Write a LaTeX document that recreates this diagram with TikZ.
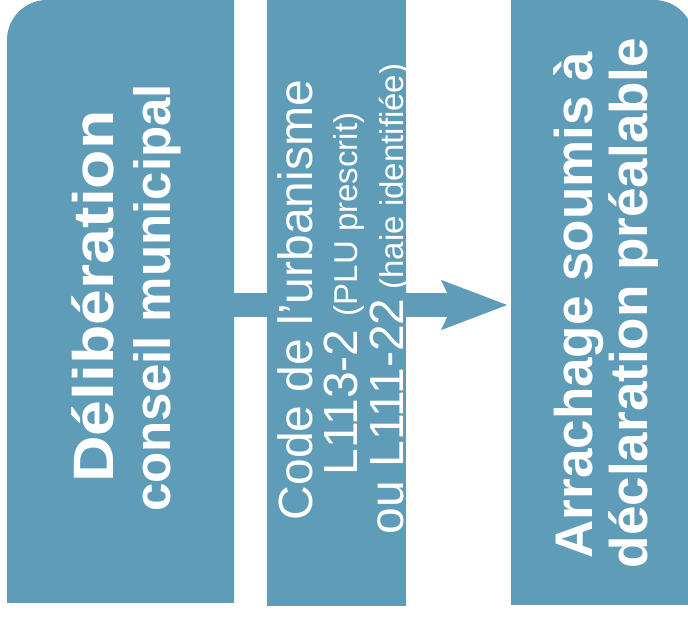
\documentclass[tikz,border=0pt]{standalone}
\usepackage{fontspec}
\setmainfont{Liberation Sans}
\usepackage{graphicx}
\usetikzlibrary{arrows.meta,positioning}
\definecolor{bleuhaie}{RGB}{95,156,183}

\begin{document}
\begin{tikzpicture}[x=1pt,y=1pt,
	bloc/.style={rectangle,inner sep=0pt,outer sep=0pt},
	texte/.style={rotate=90,anchor=base,inner sep=0pt,text=white},
	gras/.style={texte,font=\fontsize{#1}{#1}\selectfont\bfseries},
	fin/.style={texte,font=\fontsize{48}{48}\selectfont}
	]
	\def\rayon{40pt}
	\path[use as bounding box,clip] (0,0) rectangle (688,621);
	% les trois blocs
	\node[bloc,minimum width=227pt,minimum height=603pt] (delib) at (120.5,319.5) {};
	\node[bloc,minimum width=139pt,minimum height=606pt,fill=bleuhaie] (code) at (336.5,318) {};
	\node[bloc,minimum width=183pt,minimum height=605pt] (arrach) at (602.5,318.5) {};
	\fill[bleuhaie] (delib.south west) -- ([yshift=-\rayon]delib.north west)
		arc[start angle=180,end angle=90,radius=\rayon] -- (delib.north east) -- (delib.south east) -- cycle;
	\fill[bleuhaie] (arrach.south west) -- (arrach.north west) -- ([xshift=-\rayon]arrach.north east)
		arc[start angle=90,end angle=0,radius=\rayon] -- (arrach.south east) -- cycle;
	% la fleche
	\coordinate (depart) at (delib.east |- 0,316);
	\draw[bleuhaie,line width=24pt,shorten >=3pt,-{Stealth[length=65pt,width=47pt,inset=10pt]}]
		(depart) -- (arrach.west |- depart);
	% les textes
	\node[gras=57] (delib1) at (113,324.5) {\scalebox{1.13}[1]{Délibération}};
	\node[gras=51] (delib2) at (170,323) {conseil municipal};
	\node[fin] (code1) at (312,321) {Code de l’urbanisme};
	\node[fin] (code2) at (357,327) {L113-2 {\fontsize{33}{33}\selectfont(PLU prescrit)}};
	\node[fin] (code3) at (403,322) {ou L111-22{\fontsize{33}{33}\selectfont\ (haie identifiée)}};
	\node[gras=53] (arr1) at (592,316) {Arrachage soumis à};
	\node[gras=53] (arr2) at (647,318) {déclaration préalable};
\end{tikzpicture}
\end{document}
